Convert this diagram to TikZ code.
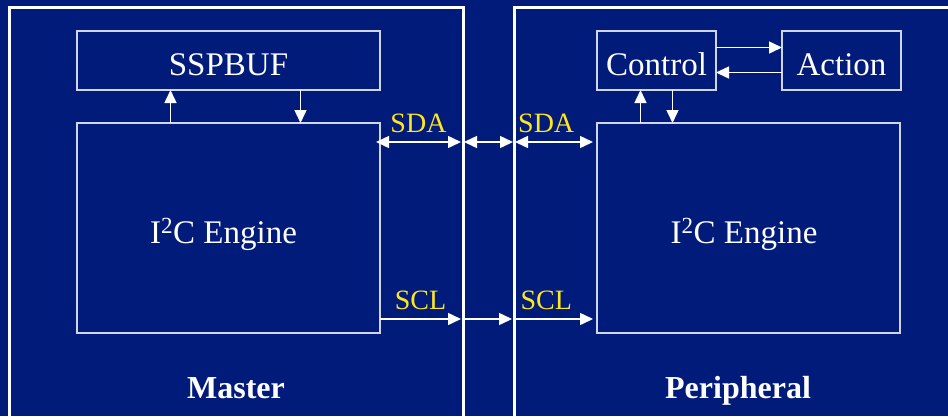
\documentclass[tikz,border=0pt]{standalone}
\usepackage{fontspec}
\setmainfont{Liberation Serif}
\usepackage{xcolor}
\definecolor{Slide Navy}{HTML}{001B7A}
\definecolor{Bus Yellow}{HTML}{FFE61E}
\colorlet{cBack}{Slide Navy}
\colorlet{cBus}{Bus Yellow}
\usetikzlibrary{positioning, arrows.meta}
\tikzset{
	>={Triangle[length=13pt,width=12pt]},
	font = \fontsize{33}{36}\selectfont,
	box/.style={
		draw=white!82!cBack,
		line width=1.5pt,
		text=white,
		inner sep=0pt,
		outer sep=0pt,
		text height=30pt,
		text depth=0pt
	},
	wide box/.style={
		box,
		minimum width=303pt,
		minimum height=59pt
	},
	small box/.style={
		box,
		minimum width=119pt,
		minimum height=59pt
	},
	engine/.style={
		box,
		minimum width=303pt,
		minimum height=210pt
	},
	wire/.style={
		white,
		line width=1.5pt
	},
	frame/.style={
		white,
		line width=3pt
	},
	bus label/.style={
		text=cBus,
		font=\fontsize{28}{30}\selectfont,
		inner sep=2pt
	},
	title/.style={
		text=white,
		font=\fontsize{32}{36}\selectfont\bfseries,
		anchor=base
	}
}

\begin{document}
\begin{tikzpicture}[x=1pt, y=-1pt]
        \fill[cBack] (0,0) rectangle (948,416);
        \useasboundingbox (0,0) rectangle (948,416);

        % the two sides
        \draw[frame] (9,416) -- (9,7) -- (463,7) -- (463,416);
        \draw[frame] (514,416) -- (514,7) -- (948,7);

        \node[wide box] (buf) at (228.5,60.5) {SSPBUF};
        \node[engine] (meng) [below=33pt of buf] {I\textsuperscript{2}C Engine\hspace*{10pt}};
        \node[small box] (ctrl) at (656.5,60.5) {Control};
        \node[small box] (act) [right=66pt of ctrl] {Action};
        \node[engine] (peng) [below=33pt of ctrl.south west, anchor=north west] {I\textsuperscript{2}C Engine\hspace*{9pt}};

        \node[title] (mtitle) at (236,398) {Master};
        \node[title] (ptitle) at (738,398) {Peripheral};

        \coordinate (mside) at (461,0);
        \coordinate (pside) at (516,0);

        \draw[wire, ->] ([xshift=-58pt]meng.north) -- ([xshift=-58pt]buf.south);
        \draw[wire, ->] ([xshift=72pt]buf.south) -- ([xshift=72pt]meng.north);
        \draw[wire, ->] ([xshift=-16pt]ctrl.south |- peng.north) -- ([xshift=-16pt]ctrl.south);
        \draw[wire, ->] ([xshift=16pt]ctrl.south) -- ([xshift=16pt]ctrl.south |- peng.north);
        \draw[wire, ->] ([yshift=13pt]ctrl.east) -- ([yshift=13pt]act.west);
        \draw[wire, ->] ([yshift=-12pt]act.west) -- ([yshift=-12pt]ctrl.east);

        % bus lines
        \draw[wire, <->] ([yshift=-19pt,xshift=-4pt]meng.north east) -- ([yshift=-19pt]meng.north east -| mside)
            node[bus label, above=6pt, midway] {SDA};
        \draw[wire, <->] ([yshift=-19pt,xshift=3pt]meng.north east -| mside) -- ([yshift=-19pt,xshift=-3pt]meng.north east -| pside);
        \draw[wire, <->] ([yshift=-19pt,xshift=-1pt]peng.north west -| pside) -- ([yshift=-19pt,xshift=-4pt]peng.north west)
            node[bus label, above=6pt, pos=0.4] {SDA};
        \draw[wire, ->] ([yshift=14pt]meng.south east) -- ([yshift=14pt]meng.south east -| mside)
            node[bus label, above=6pt, midway] {SCL};
        \draw[wire, ->] ([yshift=14pt,xshift=3pt]meng.south east -| mside) -- ([yshift=14pt,xshift=-4pt]meng.south east -| pside);
        \draw[wire, ->] ([yshift=14pt,xshift=-1pt]peng.south west -| pside) -- ([yshift=14pt,xshift=-4pt]peng.south west)
            node[bus label, above=6pt, pos=0.4] {SCL};
    \end{tikzpicture}
\end{document}
